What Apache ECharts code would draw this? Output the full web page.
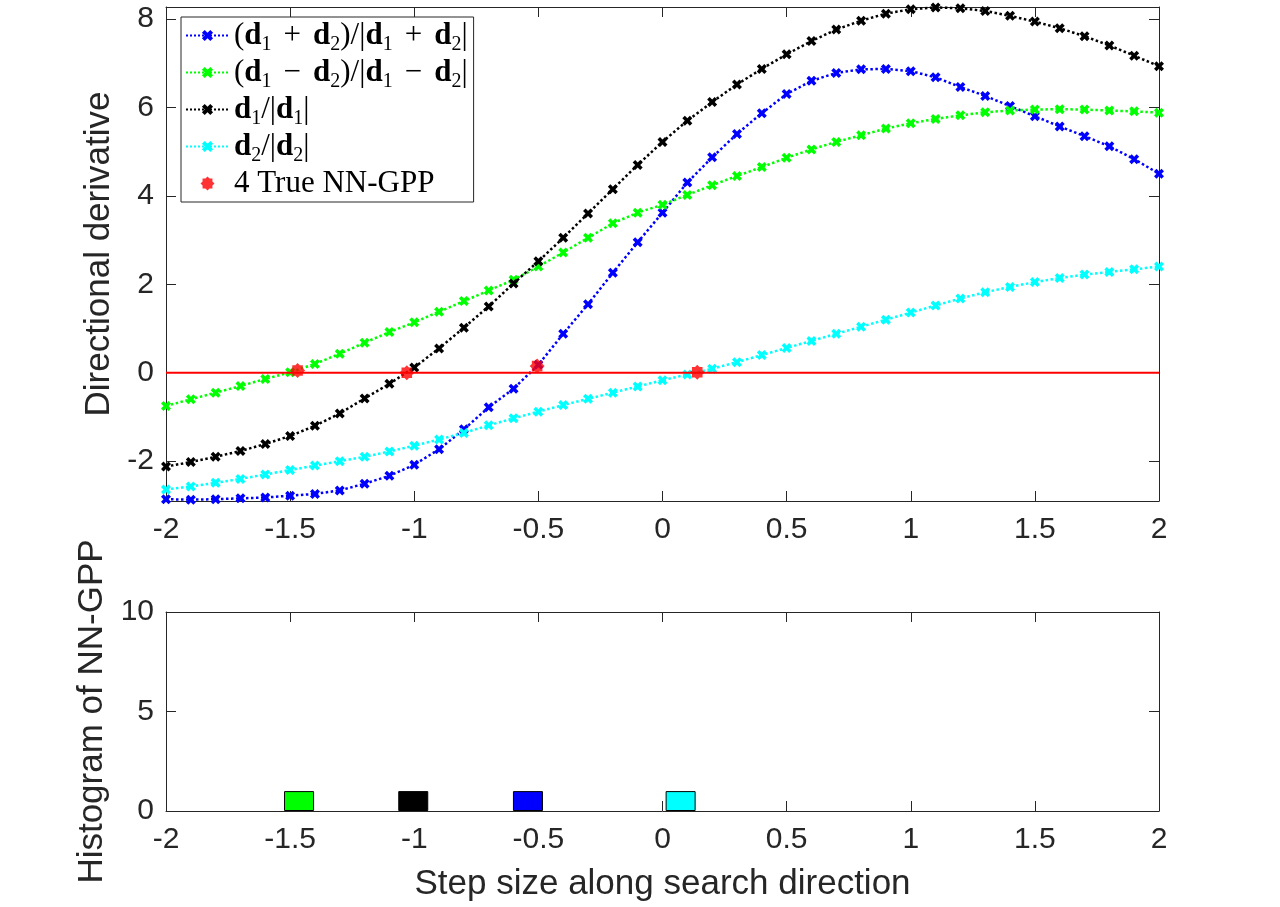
<!DOCTYPE html>
<html>
<head>
<meta charset="utf-8">
<script src="https://cdn.jsdelivr.net/npm/echarts@6/dist/echarts.min.js"></script>
<style>
html, body { margin: 0; padding: 0; background: #fff; }
#main { width: 1280px; height: 907px; }
</style>
</head>
<body>
<div id="main"></div>
<script>
// step sizes where the directional derivatives were sampled
var stepX = [-2.0, -1.9, -1.8, -1.7, -1.6, -1.5, -1.4, -1.3, -1.2, -1.1,
             -1.0, -0.9, -0.8, -0.7, -0.6, -0.5, -0.4, -0.3, -0.2, -0.1,
              0.0,  0.1,  0.2,  0.3,  0.4,  0.5,  0.6,  0.7,  0.8,  0.9,
              1.0,  1.1,  1.2,  1.3,  1.4,  1.5,  1.6,  1.7,  1.8,  1.9, 2.0];

// (d1+d2)/|d1+d2|  blue
var sumDir = [-2.86, -2.87, -2.86, -2.84, -2.82, -2.78, -2.74, -2.66, -2.51, -2.33,
              -2.08, -1.73, -1.28, -0.78, -0.36, 0.18, 0.88, 1.55, 2.26, 2.95,
               3.62, 4.30, 4.87, 5.40, 5.87, 6.30, 6.60, 6.78, 6.86, 6.87,
               6.82, 6.68, 6.46, 6.26, 6.03, 5.80, 5.57, 5.35, 5.12, 4.83, 4.50];
// (d1-d2)/|d1-d2|  green
var diffDir = [-0.75, -0.60, -0.45, -0.30, -0.14, 0.01, 0.20, 0.43, 0.68, 0.92,
                1.14, 1.38, 1.62, 1.86, 2.10, 2.40, 2.72, 3.05, 3.38, 3.62,
                3.80, 4.02, 4.24, 4.45, 4.65, 4.86, 5.05, 5.22, 5.37, 5.52,
                5.64, 5.74, 5.82, 5.89, 5.93, 5.95, 5.96, 5.95, 5.93, 5.91, 5.88];
// d1/|d1|  black
var d1Dir = [-2.12, -2.02, -1.90, -1.77, -1.61, -1.43, -1.20, -0.92, -0.58, -0.25,
              0.12, 0.55, 1.02, 1.50, 2.02, 2.52, 3.05, 3.60, 4.15, 4.70,
              5.22, 5.70, 6.12, 6.52, 6.87, 7.20, 7.50, 7.76, 7.96, 8.12,
              8.22, 8.26, 8.24, 8.18, 8.07, 7.94, 7.79, 7.61, 7.40, 7.17, 6.93];
// d2/|d2|  cyan
var d2Dir = [-2.64, -2.57, -2.49, -2.40, -2.30, -2.20, -2.10, -2.00, -1.90, -1.78,
             -1.65, -1.51, -1.36, -1.19, -1.03, -0.88, -0.73, -0.59, -0.45, -0.31,
             -0.17, -0.04, 0.09, 0.24, 0.40, 0.56, 0.72, 0.88, 1.04, 1.20,
              1.36, 1.52, 1.68, 1.82, 1.94, 2.05, 2.14, 2.22, 2.28, 2.34, 2.40];

// true NN-GPP locations
var gppX = [-1.47, -1.03, -0.505, 0.14];
var gppY = [0.05, 0.0, 0.15, 0.01];
var zeroX = [-2, 2];
var zeroY = [0, 0];

// histogram of NN-GPP
var histCenters = [-1.464, -1.004, -0.542, 0.073];
var histCounts = [1, 1, 1, 1];
var histColors = ['#00ff00', '#000000', '#0000ff', '#00ffff'];

var topYTicks = [-2, 0, 2, 4, 6, 8];

var axisCol = '#262626';
var tickFont = 30;
var nameFont = 35;
var xMark = 'path://M2.5,0 L5,2.5 L7.5,0 L10,2.5 L7.5,5 L10,7.5 L7.5,10 L5,7.5 L2.5,10 L0,7.5 L2.5,5 L0,2.5 Z';
var starMark = 'path://M5,0 L6.45,1.49 L8.54,1.46 L8.51,3.55 L10,5 L8.51,6.45 L8.54,8.54 L6.45,8.51 L5,10 L3.55,8.51 L1.46,8.54 L1.49,6.45 L0,5 L1.49,3.55 L1.46,1.46 L3.55,1.49 Z';

function pairs(xv, yv) {
    return xv.map(function (x, i) { return [x, yv[i]]; });
}

var legendText = {
    'sum': '{t|(}{b|d}{s|1}{op|+}{b|d}{s|2}{t|)/|}{b|d}{s|1}{op|+}{b|d}{s|2}{t||}',
    'diff': '{t|(}{b|d}{s|1}{op|−}{b|d}{s|2}{t|)/|}{b|d}{s|1}{op|−}{b|d}{s|2}{t||}',
    'd1': '{b|d}{s|1}{t|/|}{b|d}{s|1}{t||}',
    'd2': '{b|d}{s|2}{t|/|}{b|d}{s|2}{t||}',
    'gpp': '{t|4 True NN-GPP}'
};

function curve(name, color, data) {
    return {
        name: name,
        type: 'line',
        xAxisIndex: 0,
        yAxisIndex: 0,
        data: data,
        symbol: xMark,
        symbolSize: 10,
        showAllSymbol: true,
        itemStyle: { color: color },
        lineStyle: { color: color, width: 2.5, type: 'dotted' },
        emphasis: { disabled: true },
        z: 3
    };
}

function plainX(idx, pos, showLabel) {
    return {
        type: 'value', gridIndex: idx, position: pos, min: -2, max: 2, interval: 0.5,
        axisLine: { show: true, onZero: false, lineStyle: { color: axisCol, width: 1 } },
        axisTick: { show: true, inside: true, length: 10, lineStyle: { color: axisCol } },
        axisLabel: { show: showLabel, color: axisCol, fontSize: tickFont, fontFamily: 'Liberation Sans', margin: 14 },
        splitLine: { show: false }
    };
}

var myChart = echarts.init(document.getElementById('main'));

var bottomX = plainX(1, 'bottom', true);
bottomX.name = 'Step size along search direction';
bottomX.nameLocation = 'middle';
bottomX.nameGap = 56;
bottomX.nameTextStyle = { color: axisCol, fontSize: nameFont, fontFamily: 'Liberation Sans' };

option = {
    animation: false,
    backgroundColor: '#ffffff',
    grid: [
        { left: 166, right: 121, top: 7, height: 494 },
        { left: 166, right: 121, top: 612, height: 199 }
    ],
    legend: {
        data: ['sum', 'diff', 'd1', 'd2', 'gpp'],
        orient: 'vertical',
        left: 181,
        top: 17,
        itemWidth: 43,
        itemHeight: 14,
        itemGap: 2.5,
        padding: [3, 6, 3, 4],
        backgroundColor: '#ffffff',
        borderColor: '#262626',
        borderWidth: 1,
        borderRadius: 0,
        formatter: function (name) { return legendText[name]; },
        textStyle: {
            color: '#000',
            rich: {
                t: { fontSize: 31, fontFamily: 'Liberation Serif', lineHeight: 30 },
                op: { fontSize: 31, fontFamily: 'Liberation Serif', lineHeight: 30, padding: [0, 12, 0, 12] },
                b: { fontSize: 31, fontWeight: 'bold', fontFamily: 'Liberation Serif', lineHeight: 30 },
                s: { fontSize: 20, fontFamily: 'Liberation Serif', lineHeight: 30, verticalAlign: 'bottom', padding: [0, 0, -4, 0] }
            }
        }
    },
    xAxis: [
        plainX(0, 'bottom', true),
        bottomX,
        plainX(0, 'top', false),
        plainX(1, 'top', false)
    ],
    yAxis: [
        {
            type: 'value', gridIndex: 0, position: 'left', min: -2.9, max: 8.27,
            name: 'Directional derivative', nameLocation: 'middle', nameGap: 44,
            nameTextStyle: { color: axisCol, fontSize: nameFont, fontFamily: 'Liberation Sans' },
            axisLine: { show: true, onZero: false, lineStyle: { color: axisCol, width: 1 } },
            axisTick: { show: true, inside: true, length: 10, customValues: topYTicks, lineStyle: { color: axisCol } },
            axisLabel: { color: axisCol, fontSize: tickFont, fontFamily: 'Liberation Sans', margin: 12, customValues: topYTicks },
            splitLine: { show: false }
        },
        {
            type: 'value', gridIndex: 1, position: 'left', min: 0, max: 10, interval: 5,
            name: 'Histogram of NN-GPP', nameLocation: 'middle', nameGap: 54,
            nameTextStyle: { color: axisCol, fontSize: nameFont, fontFamily: 'Liberation Sans' },
            axisLine: { show: true, onZero: false, lineStyle: { color: axisCol, width: 1 } },
            axisTick: { show: true, inside: true, length: 10, lineStyle: { color: axisCol } },
            axisLabel: { color: axisCol, fontSize: tickFont, fontFamily: 'Liberation Sans', margin: 12 },
            splitLine: { show: false }
        },
        {
            type: 'value', gridIndex: 0, position: 'right', min: -2.9, max: 8.27,
            axisLine: { show: true, onZero: false, lineStyle: { color: axisCol, width: 1 } },
            axisTick: { show: true, inside: true, length: 10, customValues: topYTicks, lineStyle: { color: axisCol } },
            axisLabel: { show: false },
            splitLine: { show: false }
        },
        {
            type: 'value', gridIndex: 1, position: 'right', min: 0, max: 10, interval: 5,
            axisLine: { show: true, onZero: false, lineStyle: { color: axisCol, width: 1 } },
            axisTick: { show: true, inside: true, length: 10, lineStyle: { color: axisCol } },
            axisLabel: { show: false },
            splitLine: { show: false }
        }
    ],
    series: [
        curve('sum', '#0000ff', pairs(stepX, sumDir)),
        curve('diff', '#00ff00', pairs(stepX, diffDir)),
        curve('d1', '#000000', pairs(stepX, d1Dir)),
        curve('d2', '#00ffff', pairs(stepX, d2Dir)),
        {
            name: 'zero',
            type: 'line',
            xAxisIndex: 0,
            yAxisIndex: 0,
            data: pairs(zeroX, zeroY),
            symbol: 'none',
            lineStyle: { color: '#ff0000', width: 2 },
            emphasis: { disabled: true },
            z: 4
        },
        {
            name: 'gpp',
            type: 'scatter',
            xAxisIndex: 0,
            yAxisIndex: 0,
            data: pairs(gppX, gppY),
            symbol: starMark,
            symbolSize: 15,
            itemStyle: { color: '#ff0000' },
            emphasis: { disabled: true },
            z: 5
        },
        {
            name: 'hist',
            type: 'bar',
            xAxisIndex: 1,
            yAxisIndex: 1,
            barWidth: 30,
            data: histCenters.map(function (c, i) {
                return {
                    value: [c, histCounts[i]],
                    itemStyle: { color: histColors[i], borderColor: '#000', borderWidth: 1 }
                };
            }),
            emphasis: { disabled: true }
        }
    ]
};

myChart.setOption(option);
</script>
</body>
</html>
